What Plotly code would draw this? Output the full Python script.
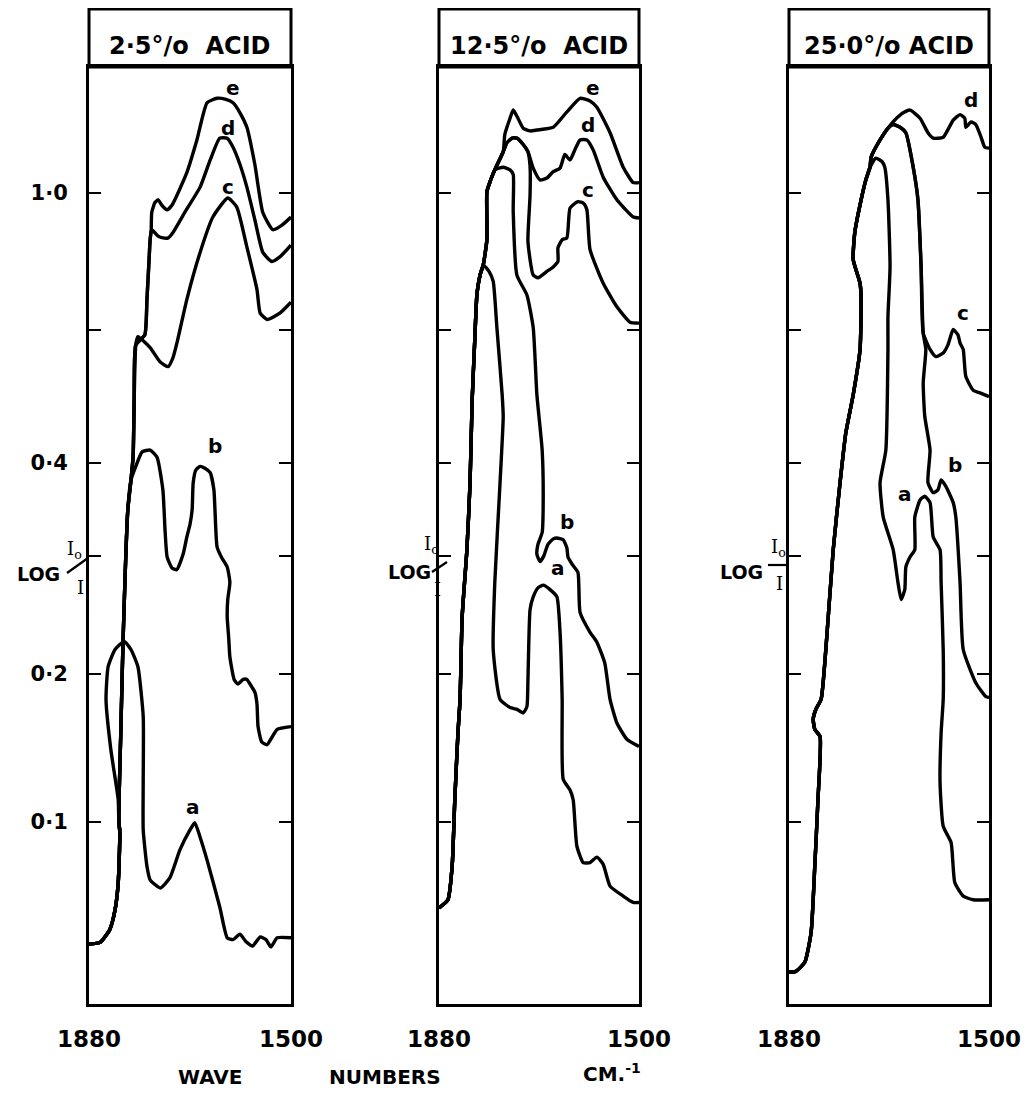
import plotly.graph_objects as go

W, H = 1033, 1093

# ---------------- data (wavenumber cm-1, transmittance % on the linear chart scale) ----------------
titles = ["2·5°/o  ACID", "12·5°/o  ACID", "25·0°/o ACID"]
a_major = [1.0, 0.4, 0.2, 0.1]            # labelled LOG I0/I ticks
a_major_text = ["1·0", "0·4", "0·2", "0·1"]
a_minor = [0.6, 0.3]                      # unlabelled ticks
x_ticks = [1880, 1500]
x_tick_text = ["1880", "1500"]

# Panel 1 : 2.5 % acid
p1_rise_wn = [1880, 1859, 1841, 1831, 1825, 1822, 1824]
p1_rise_t = [92.9, 92.7, 91.3, 89.1, 86.1, 80.6, 79.2]
p1_a_wn = [1825, 1839, 1848, 1844, 1831, 1814, 1801, 1788, 1778, 1778, 1778, 1771, 1765, 1746, 1728, 1709,
           1690, 1681, 1671, 1658, 1634, 1620, 1609, 1596, 1585, 1572, 1558, 1547, 1538, 1526, 1500]
p1_a_t = [77.0, 71.4, 65.9, 62.3, 60.4, 59.5, 60.4, 62.3, 67.8, 74.7, 80.3, 84.3, 85.8, 86.7, 85.6, 82.5,
          80.3, 79.5, 81.1, 83.6, 88.8, 92.2, 92.4, 91.8, 92.6, 93.1, 92.1, 92.4, 93.2, 92.2, 92.2]
p1_up_wn = [1820, 1816, 1807, 1801]
p1_up_t = [69.2, 59.6, 45.0, 41.7]
p1_b_wn = [1792, 1780, 1765, 1752, 1741, 1737, 1733, 1724, 1715, 1703, 1696, 1690, 1686, 1684, 1679, 1671,
           1662, 1652, 1645, 1643, 1639, 1630, 1620, 1615, 1619, 1620, 1617, 1615, 1607, 1600, 1590, 1583,
           1573, 1568, 1564, 1562, 1555, 1545, 1536, 1526, 1500]
p1_b_t = [40.2, 38.6, 38.4, 39.2, 42.8, 47.2, 50.2, 51.4, 51.6, 49.9, 48.0, 46.6, 45.0, 42.0, 40.6, 40.2,
          40.4, 40.9, 42.8, 45.0, 49.1, 50.3, 51.3, 53.0, 54.9, 56.8, 59.3, 61.2, 63.7, 64.2, 63.7, 63.7,
          64.6, 65.1, 66.4, 68.9, 70.6, 70.9, 70.1, 69.2, 68.9]
p1_mid_wn = [1797, 1795, 1792]
p1_mid_t = [39.1, 32.9, 26.8]
p1_c_wn = [1788, 1765, 1746, 1731, 1722, 1713, 1696, 1671, 1647, 1619, 1602, 1583, 1564, 1558, 1545, 1521, 1500]
p1_c_t = [25.9, 27.1, 28.7, 29.2, 28.2, 26.2, 21.8, 16.6, 12.7, 10.6, 11.6, 16.0, 20.7, 23.3, 24.0, 23.3, 22.1]
p1_de_wn = [1775, 1771, 1767, 1765]
p1_de_t = [25.7, 21.8, 17.4, 15.2]
p1_d_wn = [1762, 1750, 1741, 1731, 1722, 1699, 1671, 1652, 1634, 1620, 1609, 1596, 1583, 1568, 1553, 1536, 1521, 1500]
p1_d_t = [14.1, 14.8, 15.0, 15.0, 14.4, 12.1, 9.4, 6.4, 4.0, 4.0, 5.0, 6.9, 9.4, 13.0, 16.6, 17.6, 17.1, 15.8]
p1_e_wn = [1763, 1762, 1756, 1750, 1743, 1733, 1724, 1696, 1677, 1658, 1639, 1624, 1609, 1596, 1583, 1568,
           1553, 1534, 1517, 1500]
p1_e_t = [14.1, 12.2, 11.1, 10.8, 11.4, 11.9, 11.4, 7.8, 4.2, 0.1, -0.4, -0.3, 0.1, 1.2, 2.8, 6.9,
          12.2, 14.1, 13.6, 12.7]

# Panel 2 : 12.5 % acid
p2_rise_wn = [1880, 1863, 1855, 1850, 1844, 1840, 1836, 1827, 1821, 1817, 1812, 1808, 1802, 1796]
p2_rise_t = [88.9, 88.0, 84.3, 77.0, 69.6, 65.9, 56.8, 49.4, 42.0, 32.9, 26.2, 21.3, 19.1, 18.0]
p2_a_wn = [1785, 1777, 1770, 1760, 1758, 1764, 1774, 1777, 1764, 1745, 1732, 1720, 1713, 1711, 1707, 1701,
           1692, 1682, 1669, 1656, 1650, 1646, 1644, 1631, 1625, 1618, 1606, 1593, 1580, 1568, 1555, 1530,
           1511, 1500]
p2_a_t = [18.7, 19.8, 24.9, 32.3, 34.7, 42.0, 53.0, 60.4, 65.9, 66.8, 67.0, 67.4, 66.7, 63.7, 56.0, 54.6,
          53.6, 53.3, 53.8, 54.6, 58.5, 65.9, 74.7, 75.9, 77.0, 82.1, 83.9, 83.9, 83.3, 84.1, 86.5, 87.6,
          88.3, 88.3]
p2_up_wn = [1789, 1789, 1783, 1774]
p2_up_t = [15.2, 9.9, 8.8, 7.5]
p2_b_wn = [1758, 1745, 1739, 1739, 1732, 1713, 1701, 1694, 1684, 1682, 1684, 1692, 1694, 1688, 1681, 1673,
           1663, 1656, 1644, 1637, 1635, 1627, 1616, 1612, 1593, 1580, 1565, 1555, 1542, 1523, 1500]
p2_b_t = [7.2, 7.5, 8.0, 12.1, 19.1, 21.3, 24.9, 32.3, 38.4, 43.9, 47.5, 48.8, 49.9, 50.7, 50.1, 48.8,
          48.2, 48.1, 48.3, 49.2, 50.2, 51.0, 51.9, 56.3, 58.5, 59.6, 61.9, 65.9, 68.5, 70.3, 71.1]
p2_cde_wn = [1758]
p2_cde_t = [5.5]
p2_e_wn = [1755, 1745, 1739, 1730, 1720, 1707, 1694, 1663, 1637, 1612, 1593, 1580, 1555, 1530, 1511, 1500]
p2_e_t = [3.6, 1.8, 0.9, 1.8, 2.9, 3.2, 3.1, 2.8, 1.1, -0.4, -0.1, 0.6, 3.4, 7.2, 8.9, 8.9]
p2_cd_wn = [1751, 1741, 1732, 1720, 1711]
p2_cd_t = [4.5, 4.0, 4.0, 4.7, 5.5]
p2_d_wn = [1701, 1688, 1675, 1663, 1650, 1641, 1631, 1622, 1612, 1599, 1587, 1568, 1542, 1511, 1500]
p2_d_t = [7.3, 8.6, 8.4, 7.7, 7.3, 5.8, 6.4, 5.3, 4.2, 4.2, 5.3, 8.3, 10.8, 12.7, 12.8]
p2_c_wn = [1707, 1707, 1711, 1701, 1692, 1675, 1663, 1654, 1654, 1646, 1637, 1631, 1616, 1605, 1599, 1593,
           1568, 1542, 1517, 1500]
p2_c_t = [7.1, 10.3, 15.4, 19.1, 19.4, 18.7, 18.2, 17.6, 16.1, 15.2, 15.0, 11.7, 11.0, 11.2, 11.9, 16.3,
          20.0, 22.6, 24.3, 24.4]

# Panel 3 : 25.0 % acid
p3_rise_wn = [1880, 1867, 1850, 1838, 1831, 1825, 1821, 1831, 1834, 1829, 1819, 1810, 1796, 1783, 1772, 1758,
              1745, 1743, 1745, 1758, 1755, 1743, 1734, 1726]
p3_rise_t = [96.0, 95.9, 94.9, 91.6, 84.3, 77.0, 70.0, 69.2, 68.1, 67.0, 65.9, 60.4, 49.4, 42.0, 36.5, 32.3,
             27.3, 21.8, 20.0, 17.4, 14.4, 10.8, 8.6, 7.2]
p3_a_wn = [1715, 1703, 1698, 1692, 1688, 1692, 1692, 1696, 1707, 1701, 1682, 1673, 1667, 1660, 1658, 1650,
           1641, 1641, 1631, 1622, 1612, 1606, 1593, 1591, 1587, 1587, 1591, 1593, 1587, 1572, 1565, 1549,
           1530, 1500]
p3_a_t = [6.2, 6.6, 7.2, 10.8, 18.2, 23.7, 27.3, 38.4, 42.0, 45.8, 49.4, 53.0, 54.9, 53.8, 51.3, 50.2,
          49.4, 45.8, 43.9, 43.5, 44.2, 48.0, 49.4, 53.0, 60.4, 65.9, 69.6, 75.1, 79.9, 81.7, 86.1, 87.6,
          88.0, 88.0]
p3_up_wn = [1724, 1707, 1692]
p3_up_t = [6.1, 4.2, 2.9]
p3_d_wn = [1679, 1663, 1650, 1631, 1616, 1606, 1587, 1568, 1555, 1546, 1544, 1534, 1525, 1515, 1508, 1500]
p3_d_t = [2.0, 1.2, 0.9, 1.8, 3.4, 4.0, 3.9, 2.0, 1.4, 1.8, 2.8, 2.2, 2.5, 3.9, 5.0, 5.1]
p3_bc_wn = [1682, 1669, 1658, 1644, 1635, 1629, 1625]
p3_bc_t = [2.5, 2.8, 3.4, 7.2, 10.8, 18.2, 25.5]
p3_b_wn = [1620, 1625, 1622, 1612, 1616, 1606, 1597, 1591, 1582, 1568, 1563, 1555, 1549, 1525, 1506, 1500]
p3_b_t = [27.3, 31.0, 34.7, 38.4, 42.0, 43.1, 42.8, 41.7, 42.4, 44.2, 45.8, 53.0, 60.4, 64.1, 65.6, 65.7]
p3_c_wn = [1612, 1601, 1587, 1578, 1568, 1559, 1555, 1549, 1544, 1530, 1517, 1500]
p3_c_t = [27.3, 28.1, 27.7, 26.8, 25.1, 25.7, 26.6, 27.3, 30.3, 31.8, 32.1, 32.5]

# curve letters (panel, letter, wavenumber, transmittance)
letters = [
    (0, "e", 1609, -1.5), (0, "d", 1619, 2.9), (0, "c", 1619, 9.4), (0, "b", 1643, 38.0), (0, "a", 1684, 77.8),
    (1, "e", 1587, -1.5), (1, "d", 1597, 2.5), (1, "c", 1597, 9.7), (1, "b", 1637, 46.3), (1, "a", 1654, 51.4),
    (2, "d", 1534, -0.2), (2, "c", 1549, 23.3), (2, "b", 1565, 40.0), (2, "a", 1660, 43.3),
]

# ---------------- assemble curves ----------------
panels = [
    [  # 2.5 %
        (p1_rise_wn + p1_a_wn, p1_rise_t + p1_a_t),
        (p1_rise_wn + p1_up_wn + p1_b_wn, p1_rise_t + p1_up_t + p1_b_t),
        (p1_rise_wn + p1_up_wn + p1_mid_wn + p1_c_wn, p1_rise_t + p1_up_t + p1_mid_t + p1_c_t),
        (p1_rise_wn + p1_up_wn + p1_mid_wn + p1_de_wn + p1_d_wn, p1_rise_t + p1_up_t + p1_mid_t + p1_de_t + p1_d_t),
        (p1_rise_wn + p1_up_wn + p1_mid_wn + p1_de_wn + p1_e_wn, p1_rise_t + p1_up_t + p1_mid_t + p1_de_t + p1_e_t),
    ],
    [  # 12.5 %
        (p2_rise_wn + p2_a_wn, p2_rise_t + p2_a_t),
        (p2_rise_wn + p2_up_wn + p2_b_wn, p2_rise_t + p2_up_t + p2_b_t),
        (p2_rise_wn + p2_up_wn + p2_cde_wn + p2_cd_wn + p2_c_wn, p2_rise_t + p2_up_t + p2_cde_t + p2_cd_t + p2_c_t),
        (p2_rise_wn + p2_up_wn + p2_cde_wn + p2_cd_wn + p2_d_wn, p2_rise_t + p2_up_t + p2_cde_t + p2_cd_t + p2_d_t),
        (p2_rise_wn + p2_up_wn + p2_cde_wn + p2_e_wn, p2_rise_t + p2_up_t + p2_cde_t + p2_e_t),
    ],
    [  # 25.0 %
        (p3_rise_wn + p3_a_wn, p3_rise_t + p3_a_t),
        (p3_rise_wn + p3_up_wn + p3_bc_wn + p3_b_wn, p3_rise_t + p3_up_t + p3_bc_t + p3_b_t),
        (p3_rise_wn + p3_up_wn + p3_bc_wn + p3_c_wn, p3_rise_t + p3_up_t + p3_bc_t + p3_c_t),
        (p3_rise_wn + p3_up_wn + p3_d_wn, p3_rise_t + p3_up_t + p3_d_t),
    ],
]

# ---------------- layout geometry (screen pixels; page body adds an 8 px offset) ----------------
OFF = 8


def fx(x):
    return (x - OFF) / W


def fy(y):
    return 1 - (y - OFF) / H


HDR_TOP, BOX_TOP, BOX_BOT = 9, 67, 1004
X_EDGES = [(89, 291), (439, 639), (789, 989)]
FONT = "DejaVu Sans"

fig = go.Figure()
layout = dict(
    width=W, height=H, margin=dict(l=0, r=0, t=0, b=0, pad=0, autoexpand=False),
    paper_bgcolor="white", plot_bgcolor="white", showlegend=False,
    font=dict(family=FONT, color="black"),
)
shapes, annotations = [], []
tv_major = [100 * 10 ** (-a) for a in a_major]
tv_minor = [100 * 10 ** (-a) for a in a_minor]

for i, (l, r) in enumerate(X_EDGES):
    s = "" if i == 0 else str(i + 1)
    for wn, t in panels[i]:
        fig.add_trace(go.Scatter(
            x=wn, y=t, mode="lines", xaxis="x" + s, yaxis="y" + s,
            line=dict(color="black", width=3.4, shape="spline", smoothing=0.5),
            hoverinfo="skip", showlegend=False))
    layout["xaxis" + s] = dict(
        domain=[fx(l), fx(r)], range=[1880, 1500], anchor="y" + s, automargin=False,
        showline=True, linewidth=3, linecolor="black", mirror=True,
        showgrid=False, zeroline=False, ticks="",
        tickvals=x_ticks, ticktext=x_tick_text, ticklabelstandoff=12,
        tickfont=dict(family=FONT, size=23, weight="bold"),
    )
    yax = dict(
        domain=[fy(BOX_BOT), fy(BOX_TOP)], range=[99.5, -3.85], anchor="x" + s, automargin=False,
        showline=True, linewidth=3, linecolor="black", mirror="ticks",
        showgrid=False, zeroline=False, ticks="inside", ticklen=12, tickwidth=2, tickcolor="black",
        tickfont=dict(family=FONT, size=21, weight="bold"),
    )
    if i == 0:
        yax.update(tickvals=tv_major, ticktext=a_major_text, ticklabelstandoff=14,
                   minor=dict(tickvals=tv_minor, ticks="inside", ticklen=12, tickwidth=2, tickcolor="black"))
    else:
        yax.update(tickvals=[], showticklabels=False,
                   minor=dict(tickvals=tv_major + tv_minor, ticks="inside", ticklen=12, tickwidth=2,
                              tickcolor="black"))
    layout["yaxis" + s] = yax
    shapes.append(dict(type="rect", xref="paper", yref="paper",
                       x0=fx(l), x1=fx(r), y0=fy(BOX_TOP), y1=fy(HDR_TOP),
                       line=dict(color="black", width=3)))
    annotations.append(dict(xref="paper", yref="paper", x=fx((l + r) / 2), y=fy(46),
                            text=titles[i], showarrow=False, xanchor="center", yanchor="middle",
                            font=dict(family=FONT, size=24, weight="bold")))

for pi, txt, wn, t in letters:
    s = "" if pi == 0 else str(pi + 1)
    annotations.append(dict(xref="x" + s, yref="y" + s, x=wn, y=t, text=txt, showarrow=False,
                            font=dict(family=FONT, size=20, weight="bold")))

# LOG I0/I labels
log_pos = [(62, 574), (433, 572), (765, 572)]
for i, (lx, ly) in enumerate(log_pos):
    annotations.append(dict(xref="paper", yref="paper", x=fx(lx), y=fy(ly), text="LOG",
                            showarrow=False, xanchor="right", yanchor="middle",
                            font=dict(family=FONT, size=19, weight="bold")))
frac = [((74, 550), (80, 587), (67, 573, 88, 558)),
        ((431, 545), (437, 589), (432, 572, 447, 562)),
        ((778, 548), (779, 583), (768, 565, 787, 565))]
for (tx, ty), (bx, by), (x0, y0, x1, y1) in frac:
    annotations.append(dict(xref="paper", yref="paper", x=fx(tx), y=fy(ty), text="I<sub>o</sub>",
                            showarrow=False, xanchor="center", yanchor="middle",
                            font=dict(family="DejaVu Serif", size=18)))
    annotations.append(dict(xref="paper", yref="paper", x=fx(bx), y=fy(by), text="I",
                            showarrow=False, xanchor="center", yanchor="middle",
                            font=dict(family="DejaVu Serif", size=18)))
    shapes.append(dict(type="line", xref="paper", yref="paper", x0=fx(x0), y0=fy(y0),
                       x1=fx(x1), y1=fy(y1), line=dict(color="black", width=2.2)))

for txt, x, y in [("WAVE", 210, 1077), ("NUMBERS", 385, 1077), ("CM.<sup>-1</sup>", 612, 1073)]:
    annotations.append(dict(xref="paper", yref="paper", x=fx(x), y=fy(y), text=txt, showarrow=False,
                            xanchor="center", yanchor="middle",
                            font=dict(family=FONT, size=20, weight="bold")))

layout["shapes"] = shapes
layout["annotations"] = annotations
fig.update_layout(**layout)
fig.write_html("out.html")
